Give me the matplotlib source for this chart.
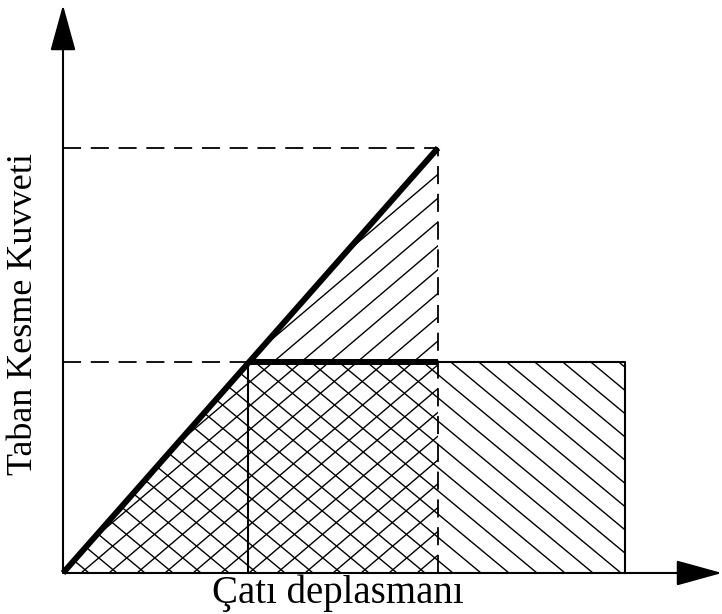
import numpy as np
import matplotlib.pyplot as plt
from matplotlib.patches import Polygon
from matplotlib.collections import LineCollection

plt.rcParams['font.family'] = ['Liberation Serif', 'DejaVu Serif']
plt.rcParams['lines.scale_dashes'] = False

# capacity curve key points (origin at 0,0)
d_yield, v_yield = 1.85, 2.11      # yield point of bilinear curve
d_elastic, v_elastic = 3.75, 4.25  # linear elastic response
d_ult = 5.62                       # ultimate displacement

x_label = 'Çatı deplasmanı'
y_label = 'Taban Kesme Kuvveti'

fig = plt.figure(figsize=(7.22, 6.14), dpi=100)
ax = fig.add_axes([0, 0, 1, 1])
ax.set_xlim(-0.63, 6.59)
ax.set_ylim(-0.41, 5.73)
ax.axis('off')


def hatch(poly, slope, spacing, offset):
    patch = Polygon(poly, closed=True, fill=False, lw=0)
    ax.add_patch(patch)
    h = 6.0
    starts = np.arange(-10 + offset, 10, spacing)
    segs = [[(c, 0), (c + h / slope, h)] for c in starts]
    lc = LineCollection(segs, colors='k', linewidths=1.0)
    lc.set_clip_path(patch)
    ax.add_collection(lc)


# hatched areas
hatch([(0, 0), (d_elastic, v_elastic), (d_elastic, 0)], 0.85, 0.28, 0.10)
hatch([(0, 0), (d_yield, v_yield), (d_ult, v_yield), (d_ult, 0)], -0.83, 0.28, 0.18)

dash = (0, (13, 7))
# dashed guides
ax.plot([0, d_elastic], [v_elastic, v_elastic], color='k', lw=1.3, ls=dash)
ax.plot([0, d_yield], [v_yield, v_yield], color='k', lw=1.3, ls=dash)
ax.plot([d_elastic, d_elastic], [0, v_elastic], color='k', lw=1.3, ls=dash)

# thin outline of the energy rectangle
ax.plot([d_yield, d_yield], [0, v_yield], color='k', lw=1.5)
ax.plot([d_elastic, d_ult, d_ult], [v_yield, v_yield, 0], color='k', lw=1.5)

# bold curves
ax.plot([0, d_elastic], [0, v_elastic], color='k', lw=4.3, solid_capstyle='butt')
ax.plot([d_yield, d_elastic], [v_yield, v_yield], color='k', lw=4.3, solid_capstyle='butt')

# axes with arrows
arrow = dict(arrowstyle='-|>,head_length=2.9,head_width=0.8', mutation_scale=10,
             color='k', lw=1.5, shrinkA=0, shrinkB=0)
ax.annotate('', xy=(6.59, 0), xytext=(0, 0), arrowprops=arrow)
ax.annotate('', xy=(0, 5.68), xytext=(0, 0), arrowprops=arrow)

ax.text(2.75, -0.30, x_label, fontsize=28, ha='center', va='baseline')
ax.text(-0.39, 2.59, y_label, fontsize=26, ha='center', va='center', rotation=90)

fig.savefig('out.png', dpi=100)
